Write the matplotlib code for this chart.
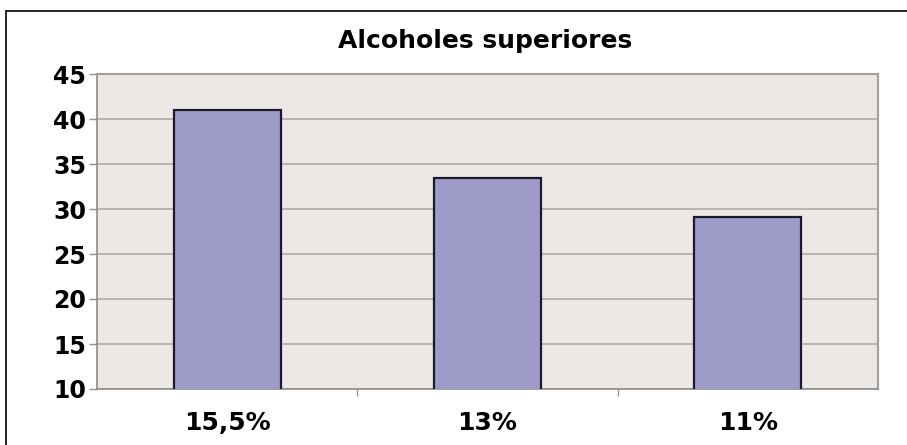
import matplotlib.pyplot as plt
from matplotlib.patches import Rectangle

categories = ['15,5%', '13%', '11%']
values = [41, 33.4, 29.1]
yticks = [10, 15, 20, 25, 30, 35, 40, 45]

# the source picture is stretched sideways, DejaVu Bold is wide enough to match
plt.rcParams['font.family'] = ['DejaVu Sans']

fig = plt.figure(figsize=(9.07, 4.45), dpi=100)
W, H = 907, 445
ax = fig.add_axes([97 / W, 1 - 389 / H, (878 - 97) / W, (389 - 74) / H])

ax.set_facecolor('#ebe8e5')
ax.bar(range(len(categories)), values, width=0.41, bottom=0,
       color='#9f9bc9', edgecolor='#1a1a2a', linewidth=1.6, zorder=3)

ax.set_xlim(-0.5, len(categories) - 0.5)
ax.set_ylim(10, 45)
ax.set_yticks(yticks)
ax.set_yticklabels([str(t) for t in yticks], fontsize=17, fontweight='bold')
ax.yaxis.grid(True, color='#a9a6a3', linewidth=1.1, zorder=1)

ax.set_xticks(range(len(categories)))
ax.set_xticklabels(categories, fontsize=18, fontweight='bold')
ax.tick_params(axis='x', length=0, pad=16)
# category separators on bottom axis
ax.set_xticks([0.5, 1.5], minor=True)
ax.tick_params(axis='x', which='minor', length=5, color='#909090', width=1)
ax.tick_params(axis='y', length=6, color='#909090', width=1, pad=2)

for s in ['left', 'bottom']:
    ax.spines[s].set_color('#8c8c8c')
    ax.spines[s].set_linewidth(1.2)
for s in ['top', 'right']:
    ax.spines[s].set_color('#a0a0a0')
    ax.spines[s].set_linewidth(1.5)

fig.text(485 / W, 1 - 41 / H, 'Alcoholes superiores',
         ha='center', va='center', fontsize=18, fontweight='bold')

# outer chart border
fig.patches.append(Rectangle((6 / W, -0.05), 1.0, 1 - 11 / H + 0.05,
                             transform=fig.transFigure, fill=False,
                             edgecolor='black', linewidth=1.2))

fig.savefig('out.png', dpi=100)
